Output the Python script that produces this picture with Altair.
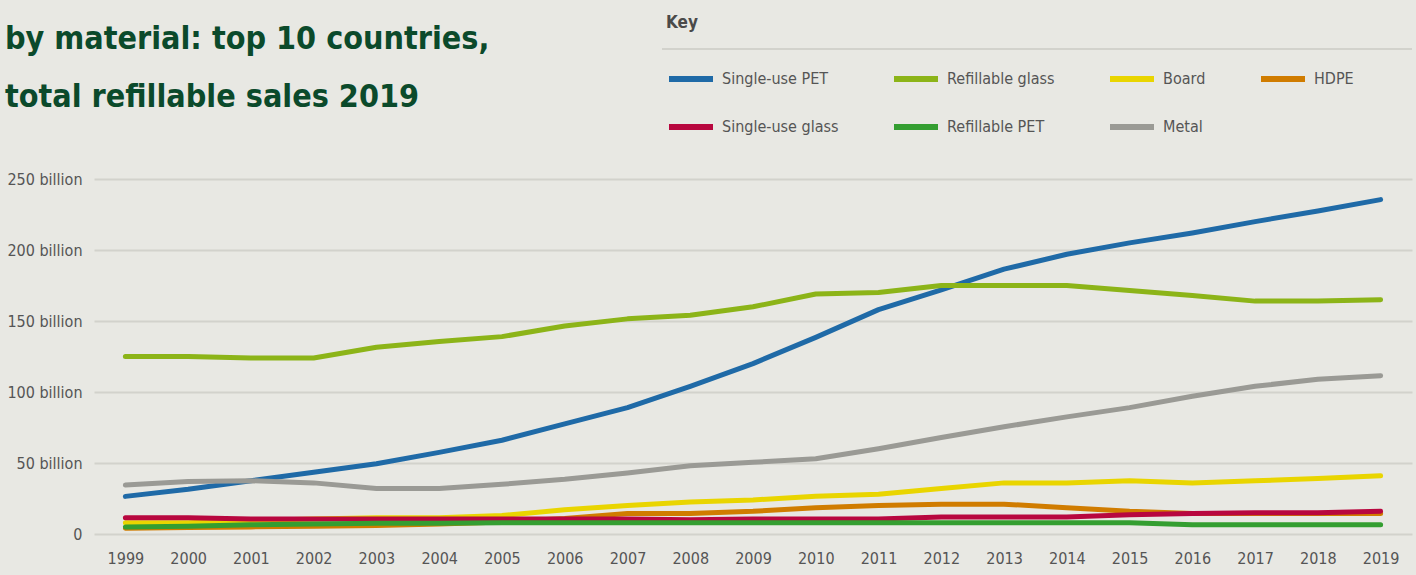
import altair as alt
import pandas as pd

years = [str(y) for y in range(1999, 2020)]

series_names = ["Single-use PET", "Refillable glass", "Board", "HDPE",
                "Single-use glass", "Refillable PET", "Metal"]
series_colors = ["#1f6aa7", "#8cb418", "#e9d500", "#d07c00",
                 "#b8073f", "#349e31", "#9a9a95"]

single_use_pet = [26.5, 31.5, 37.5, 43.5, 49.5, 57.5, 66, 77.5, 89, 104, 120,
                  138.5, 158, 172, 186.5, 197, 205, 212, 220, 227.5, 235.5]
refillable_glass = [125, 125, 124, 124, 131.5, 135.5, 139, 146.5, 151.5, 154, 160,
                    169, 170, 175, 175, 175, 171.5, 168, 164, 164, 165]
board = [8, 8, 9.5, 10.5, 11.5, 11.5, 13, 17, 20, 22.5, 24,
         26.5, 28, 32, 36, 36, 37.5, 36, 37.5, 39, 41]
hdpe = [4, 4.5, 5, 5.5, 6, 7, 8.5, 11, 14.5, 14.5, 16,
        18.5, 20, 21, 21, 18.5, 16, 14.5, 14.5, 14.5, 14.5]
single_use_glass = [11.5, 11.5, 10.5, 10.5, 10.5, 10.5, 10.5, 10.5, 10.5, 10, 10.5,
                    10.5, 10.5, 12, 12, 12, 13.5, 14.5, 15, 15, 16]
refillable_pet = [5, 5.5, 6.5, 7, 7.5, 7.5, 8, 8, 8, 8, 8,
                  8, 8, 8, 8, 8, 8, 6.5, 6.5, 6.5, 6.5]
metal = [34.5, 37, 37.5, 36, 32, 32, 35, 38.5, 43, 48, 50.5,
         53, 60, 68, 75.5, 82.5, 89, 97, 104, 109, 111.5]

y_ticks = [0, 50, 100, 150, 200, 250]
title_lines = ["by material: top 10 countries,", "total refillable sales 2019"]

all_values = [single_use_pet, refillable_glass, board, hdpe,
              single_use_glass, refillable_pet, metal]
rows = []
for i, (name, vals) in enumerate(zip(series_names, all_values)):
    for yr, v in zip(years, vals):
        rows.append({"year": yr, "material": name, "value": v, "idx": i})
df = pd.DataFrame(rows)

FONT = "DejaVu Sans Condensed, Liberation Sans Narrow, sans-serif"
TEXT = "#555555"

lines = alt.Chart(df).mark_line(
    strokeWidth=5, strokeCap="round", strokeJoin="round"
).encode(
    x=alt.X("year:O", axis=alt.Axis(title=None, labelAngle=0, domain=False,
                                     ticks=False, grid=False, labelPadding=16,
                                     labelFontSize=16, labelColor=TEXT,
                                     labelFont=FONT)),
    y=alt.Y("value:Q", scale=alt.Scale(domain=[0, 250], nice=False),
            axis=alt.Axis(title=None, values=y_ticks, domain=False, ticks=False,
                          grid=True, gridColor="#d2d2cc", gridWidth=2,
                          labelPadding=12, labelFontSize=16, labelColor=TEXT,
                          labelFont=FONT,
                          labelExpr="datum.value == 0 ? '0' : datum.value + ' billion'")),
    color=alt.Color("material:N",
                    scale=alt.Scale(domain=series_names, range=series_colors),
                    legend=alt.Legend(
                        title="Key", orient="none", legendX=572, legendY=-164,
                        direction="horizontal", columns=4, columnPadding=43,
                        rowPadding=11, titlePadding=22,
                        titleFont=FONT, titleFontSize=17, titleColor="#4a4a4a",
                        titleFontWeight="bold",
                        labelFont=FONT, labelFontSize=16, labelColor=TEXT,
                        labelOffset=6, symbolType="stroke", symbolSize=1936,
                        symbolStrokeWidth=6)),
    order=alt.Order("idx:Q"),
)

sep = alt.Chart(pd.DataFrame({"a": [0]})).mark_rule(
    color="#d2d2cc", strokeWidth=2
).encode(x=alt.value(568), x2=alt.value(1318), y=alt.value(-130))

chart = alt.layer(lines, sep).properties(
    width=1318, height=355,
    title=alt.TitleParams(title_lines, anchor="start", fontSize=32,
                          font=FONT, fontWeight="bold", color="#0b4a2b",
                          lineHeight=58, baseline="alphabetic",
                          dx=-2, dy=124, offset=0),
    autosize=alt.AutoSizeParams(type="none"),
    padding={"left": 94, "top": 179, "right": 4, "bottom": 41},
    background="#e8e8e3",
).configure_view(stroke=None)

chart.save("out.html", embed_options={"renderer": "svg", "actions": False})
